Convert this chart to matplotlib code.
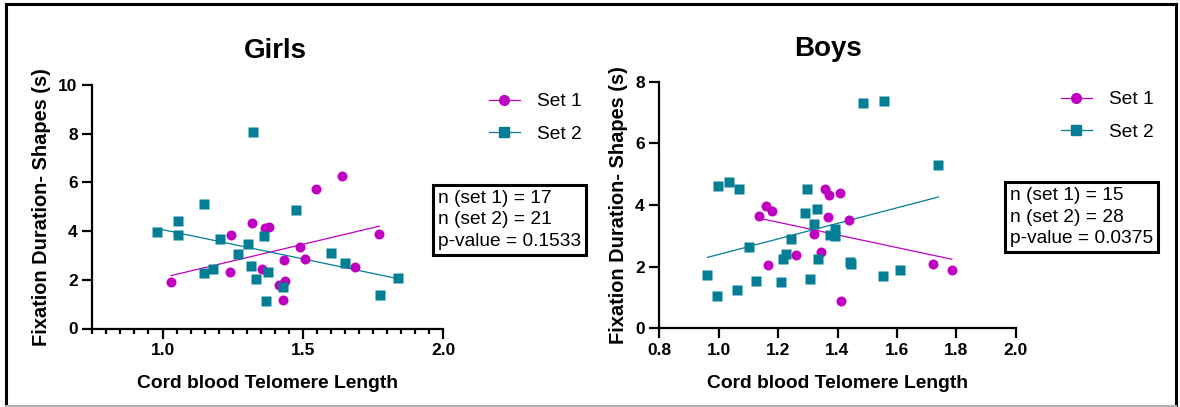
import numpy as np
import matplotlib
matplotlib.use("Agg")
import matplotlib.pyplot as plt
from matplotlib.lines import Line2D
from matplotlib.ticker import MultipleLocator

plt.rcParams['font.family'] = ['Liberation Sans', 'DejaVu Sans']

# --- data ---
girls_set1_x = [1.030, 1.243, 1.241, 1.320, 1.364, 1.381, 1.355, 1.433, 1.415,
                1.436, 1.429, 1.490, 1.507, 1.545, 1.640, 1.686, 1.772]
girls_set1_y = [1.90, 3.85, 2.31, 4.35, 4.13, 4.16, 2.44, 2.83, 1.79,
                1.95, 1.18, 3.33, 2.84, 5.72, 6.25, 2.54, 3.89]
girls_set2_x = [0.982, 1.054, 1.055, 1.148, 1.322, 1.205, 1.148, 1.180, 1.269,
                1.304, 1.314, 1.333, 1.361, 1.368, 1.376, 1.430, 1.477, 1.600,
                1.651, 1.775, 1.838]
girls_set2_y = [3.95, 4.41, 3.84, 5.10, 8.07, 3.66, 2.28, 2.43, 3.06,
                3.48, 2.57, 2.05, 3.81, 1.13, 2.31, 1.72, 4.87, 3.10,
                2.70, 1.38, 2.06]

boys_set1_x = [1.137, 1.160, 1.180, 1.166, 1.261, 1.322, 1.345, 1.358, 1.372,
               1.369, 1.407, 1.411, 1.438, 1.723, 1.785]
boys_set1_y = [3.63, 3.97, 3.81, 2.06, 2.37, 3.05, 2.48, 4.52, 4.32,
               3.61, 4.40, 0.90, 3.50, 2.09, 1.90]
boys_set2_x = [0.962, 0.994, 0.996, 1.033, 1.067, 1.063, 1.103, 1.124, 1.211,
               1.216, 1.228, 1.242, 1.298, 1.292, 1.306, 1.322, 1.332, 1.335,
               1.374, 1.390, 1.393, 1.443, 1.446, 1.487, 1.557, 1.553, 1.611,
               1.740]
boys_set2_y = [1.73, 1.06, 4.63, 4.73, 4.53, 1.23, 2.64, 1.55, 1.51,
               2.24, 2.42, 2.89, 4.51, 3.73, 1.60, 3.37, 3.86, 2.25,
               3.03, 3.00, 3.23, 2.16, 2.08, 7.31, 7.38, 1.70, 1.88,
               5.29]

girls_stats = "n (set 1) = 17\nn (set 2) = 21\np-value = 0.1533"
boys_stats = "n (set 1) = 15\nn (set 2) = 28\np-value = 0.0375"

MAGENTA = '#C000C0'
TEAL = '#037E95'

W, H = 1180, 407
fig = plt.figure(figsize=(W / 100, H / 100), dpi=100)


def px_axes(left, right, top, bottom):
    return fig.add_axes([left / W, 1 - bottom / H, (right - left) / W, (bottom - top) / H])


def draw_panel(ax, s1x, s1y, s2x, s2y):
    for xs, ys, col, mk, lab in [(s1x, s1y, MAGENTA, 'o', 'Set 1'),
                                 (s2x, s2y, TEAL, 's', 'Set 2')]:
        xs = np.array(xs)
        ys = np.array(ys)
        k, b = np.polyfit(xs, ys, 1)
        xl = np.array([xs.min(), xs.max()])
        ax.plot(xl, k * xl + b, color=col, lw=0.9, zorder=2)
        ax.plot(xs, ys, mk, color=col, ms=7.2, mec='none', zorder=3, label=lab)
    for side in ['top', 'right']:
        ax.spines[side].set_visible(False)
    for side in ['left', 'bottom']:
        ax.spines[side].set_linewidth(1.6)
    ax.tick_params(which='major', length=7, width=1.6, labelsize=12.5)
    ax.tick_params(which='minor', length=3.5, width=1.6)
    for lbl in ax.get_xticklabels() + ax.get_yticklabels():
        lbl.set_fontweight('bold')
    ax.set_xlabel('Cord blood Telomere Length', fontsize=13.9, fontweight='bold', labelpad=12)
    ax.set_ylabel('Fixation Duration- Shapes (s)', fontsize=14.4, fontweight='bold', labelpad=5)


# Girls
ax1 = px_axes(92.3, 443.3, 85, 328.5)
ax1.set_xlim(0.75, 2.0)
ax1.set_ylim(0, 10)
ax1.set_xticks([1.0, 1.5, 2.0])
ax1.set_xticklabels(['1.0', '1.5', '2.0'])
ax1.xaxis.set_minor_locator(MultipleLocator(0.05))
ax1.set_yticks([0, 2, 4, 6, 8, 10])
draw_panel(ax1, girls_set1_x, girls_set1_y, girls_set2_x, girls_set2_y)

# Boys
ax2 = px_axes(659.3, 1015.7, 81.7, 328.3)
ax2.set_xlim(0.8, 2.0)
ax2.set_ylim(0, 8)
ax2.set_xticks([0.8, 1.0, 1.2, 1.4, 1.6, 1.8, 2.0])
ax2.set_xticklabels(['0.8', '1.0', '1.2', '1.4', '1.6', '1.8', '2.0'])
ax2.set_yticks([0, 2, 4, 6, 8])
draw_panel(ax2, boys_set1_x, boys_set1_y, boys_set2_x, boys_set2_y)

fig.text(275 / W, 1 - 51 / H, 'Girls', ha='center', va='center', fontsize=20, fontweight='bold')
fig.text(828 / W, 1 - 49 / H, 'Boys', ha='center', va='center', fontsize=20, fontweight='bold')

# legends
handles = [Line2D([], [], color=MAGENTA, marker='o', lw=0.9, ms=7),
           Line2D([], [], color=TEAL, marker='s', lw=0.9, ms=7)]
for x0, y0 in [(489 / W, 93 / H), (1061 / W, 91 / H)]:
    fig.legend(handles, ['Set 1', 'Set 2'], loc='upper left', bbox_to_anchor=(x0, 1 - y0),
               frameon=False, fontsize=13.8, handlelength=1.6, handletextpad=0.9,
               labelspacing=0.78, borderaxespad=0, borderpad=0)

# stats boxes
for x0, y0, txt in [(438 / W, 1 - 220 / H, girls_stats), (1010 / W, 1 - 217 / H, boys_stats)]:
    fig.text(x0, y0, txt, ha='left', va='center', fontsize=13.8, linespacing=1.32,
             bbox=dict(boxstyle='square,pad=0.28', fc='white', ec='black', lw=2.2))

# outer frame
fig.add_artist(Line2D([6 / W, 1176 / W], [1 - 4 / H, 1 - 4 / H], color='black', lw=2.2, transform=fig.transFigure))
fig.add_artist(Line2D([6 / W, 6 / W], [1 - 4 / H, 1 - 406 / H], color='black', lw=2.2, transform=fig.transFigure))
fig.add_artist(Line2D([1176 / W, 1176 / W], [1 - 4 / H, 1 - 406 / H], color='black', lw=2.2, transform=fig.transFigure))
fig.add_artist(Line2D([6 / W, 1176 / W], [1 - 406 / H, 1 - 406 / H], color='#b0b0b0', lw=1.5, transform=fig.transFigure))

fig.savefig('out.png', dpi=100)
